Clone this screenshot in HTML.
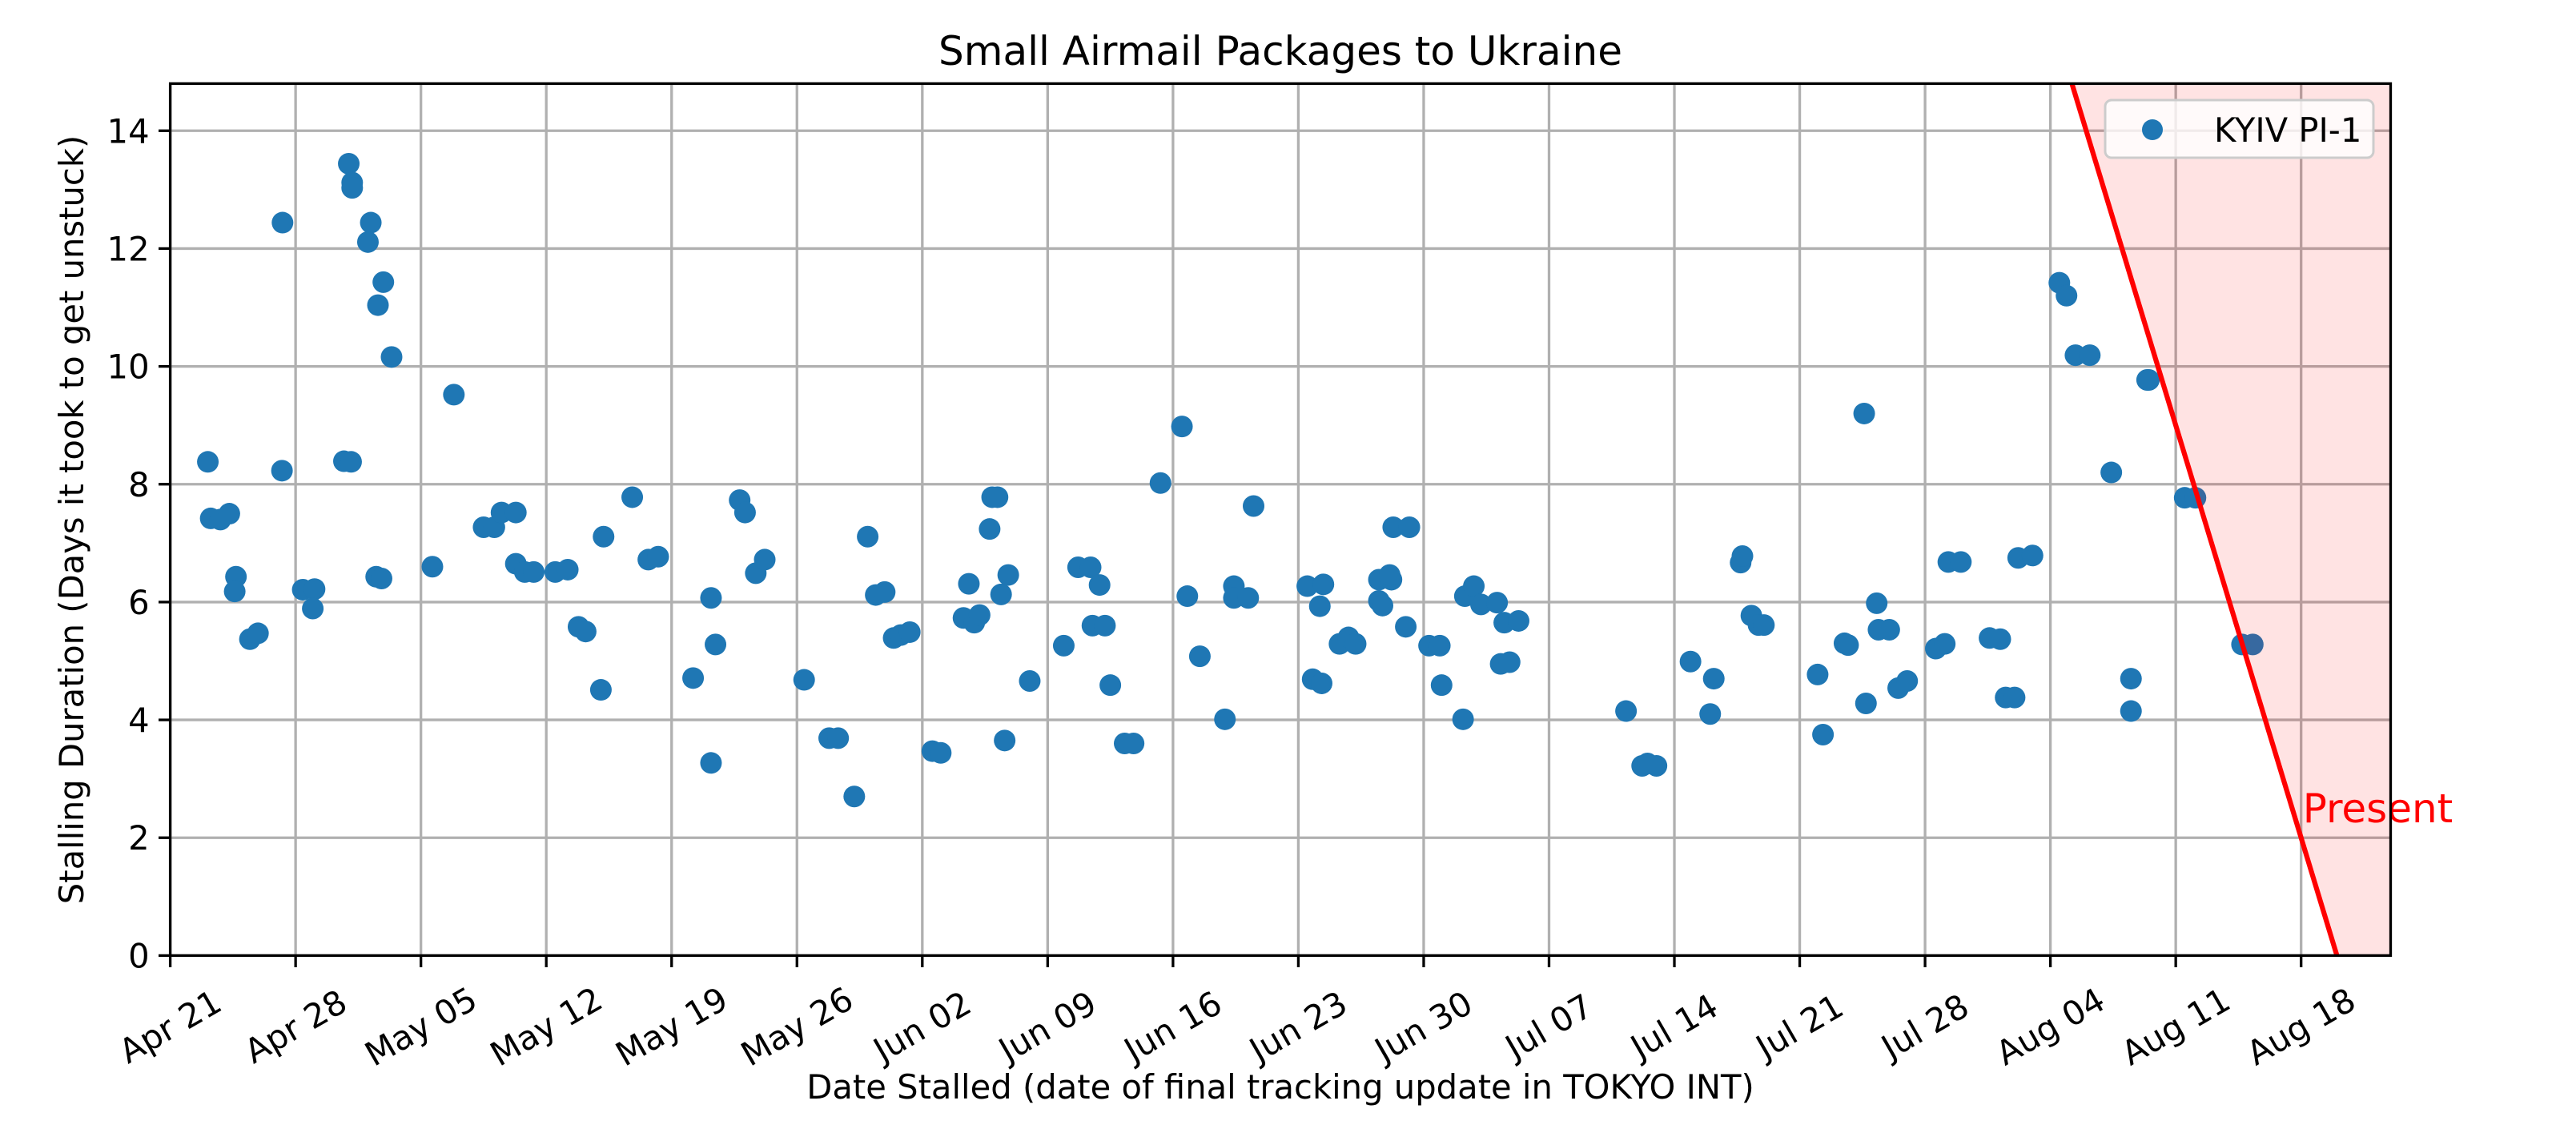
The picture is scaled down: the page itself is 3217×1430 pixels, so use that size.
<!DOCTYPE html>
<html><head><meta charset="utf-8"><style>
html,body{margin:0;padding:0;background:#fff;}
svg{display:block;font-family:"DejaVu Sans","Liberation Sans",sans-serif;}
</style></head><body>
<svg id="chart" width="3217" height="1430" viewBox="0 0 3217 1430" xmlns="http://www.w3.org/2000/svg">
<rect x="0" y="0" width="3217" height="1430" fill="#fff"/>
<g id="grid"></g>
<g id="points"></g>
<g id="present"></g>
<g id="axes"></g>
<text x="1599" y="81" font-size="50" text-anchor="middle">Small Airmail Packages to Ukraine</text>
<text x="1599" y="1372" font-size="41.7" text-anchor="middle">Date Stalled (date of final tracking update in TOKYO INT)</text>
<text x="0" y="0" font-size="41.7" text-anchor="middle" transform="translate(104,649) rotate(-90)">Stalling Duration (Days it took to get unstuck)</text>
<g>
<rect x="2629" y="125" width="335" height="72" rx="8" fill="#fff" fill-opacity="0.8" stroke="#cccccc" stroke-width="3"/>
<circle cx="2688" cy="162" r="13" fill="#1f77b4"/>
<text x="2765" y="177" font-size="41.7">KYIV PI-1</text>
</g>
</svg>
<script>
// data: day offsets from Apr 21, and stalling durations
const dayOffsets = [2.1,2.26,2.8,3.3,3.67,3.6,4.45,4.9,6.27,6.24,7.4,8.06,7.96,9.7,10.1,9.97,10.16,10.16,11.2,11.04,11.5,11.8,11.6,11.9,12.36,14.64,15.84,17.5,18.1,18.5,19.3,19.3,19.8,20.3,21.5,22.2,22.8,23.2,24.05,24.2,25.8,26.7,27.25,29.2,30.2,30.2,30.45,31.8,32.1,32.7,33.2,35.4,36.8,37.3,38.2,38.95,39.4,39.9,40.4,40.8,41.3,42.56,43.03,44.6,44.3,44.9,45.2,45.76,45.9,46.2,46.4,46.6,46.8,48.0,49.9,50.7,51.4,51.9,51.5,52.2,52.5,53.3,53.8,55.3,56.5,56.8,57.5,58.9,59.4,59.4,60.2,60.5,63.5,64.4,64.2,63.8,64.3,65.3,65.8,66.2,67.5,67.7,67.5,68.2,68.1,68.3,69.2,69.0,70.3,70.9,71.0,72.2,72.3,72.8,73.2,74.1,74.5,75.3,74.3,74.8,81.3,82.2,83.0,82.5,84.9,86.0,86.2,87.7,87.8,88.3,88.7,89.0,92.0,92.3,93.5,93.7,94.6,94.7,95.3,95.4,96.0,96.5,97.0,98.6,99.1,99.3,100.0,101.6,102.2,102.5,103.0,103.2,104.0,105.5,105.9,106.4,107.2,108.4,109.5,109.5,110.4,110.5,112.5,113.1,115.7,116.3];
const durations = [8.38,7.42,7.40,7.5,6.43,6.18,5.37,5.47,12.44,8.23,6.21,6.22,5.89,8.39,8.38,13.44,13.12,13.03,12.44,12.11,6.43,6.40,11.04,11.43,10.16,6.6,9.52,7.27,7.27,7.52,7.52,6.65,6.51,6.51,6.51,6.55,5.58,5.50,4.51,7.11,7.78,6.72,6.77,4.71,6.07,3.27,5.28,7.73,7.52,6.49,6.72,4.68,3.69,3.69,2.70,7.11,6.12,6.17,5.39,5.44,5.49,3.47,3.44,6.31,5.73,5.65,5.78,7.24,7.78,7.78,6.13,3.65,6.46,4.66,5.26,6.59,6.59,6.29,5.60,5.60,4.59,3.60,3.60,8.02,8.98,6.10,5.08,4.01,6.27,6.07,6.07,7.63,6.27,6.30,5.93,4.69,4.62,5.29,5.40,5.29,6.02,5.94,6.38,6.38,6.46,7.27,7.27,5.58,5.26,5.26,4.59,4.01,6.10,6.27,5.96,5.99,5.65,5.68,4.95,4.98,4.15,3.22,3.22,3.26,4.99,4.10,4.70,6.67,6.78,5.77,5.61,5.61,4.77,3.75,5.30,5.27,9.20,4.28,5.98,5.53,5.53,4.54,4.66,5.21,5.29,6.68,6.68,5.39,5.37,4.38,4.38,6.75,6.79,11.42,11.20,10.19,10.19,8.20,4.70,4.15,9.77,9.77,7.77,7.77,5.28,5.28];
const xTickDays = [0,7,14,21,28,35,42,49,56,63,70,77,84,91,98,105,112,119];
const xTickLabels = ["Apr 21","Apr 28","May 05","May 12","May 19","May 26","Jun 02","Jun 09","Jun 16","Jun 23","Jun 30","Jul 07","Jul 14","Jul 21","Jul 28","Aug 04","Aug 11","Aug 18"];
const yTicks = [0,2,4,6,8,10,12,14];
const presentDay = [121];
const presentSlope = [1];

const NS="http://www.w3.org/2000/svg";
const L=212.6,R=2985.5,T=104.4,B=1193.4;
const XMIN=0,XMAX=124,YMIN=0,YMAX=14.8;
function sx(d){return L+(d-XMIN)/(XMAX-XMIN)*(R-L);}
function sy(v){return B-(v-YMIN)/(YMAX-YMIN)*(B-T);}
function mk(tag,attrs,parent){const e=document.createElementNS(NS,tag);for(const k in attrs)e.setAttribute(k,attrs[k]);parent.appendChild(e);return e;}

const grid=document.getElementById('grid');
xTickDays.forEach(d=>{
  const g=mk('line',{x1:sx(d),x2:sx(d),y1:T,y2:B,stroke:'#b0b0b0','stroke-width':3.3},grid);
  
  
});
yTicks.forEach(v=>{
  const g=mk('line',{x1:L,x2:R,y1:sy(v),y2:sy(v),stroke:'#b0b0b0','stroke-width':3.3},grid);
  
  
});

const pts=document.getElementById('points');
dayOffsets.forEach((d,i)=>{
  const c=mk('circle',{cx:sx(d),cy:sy(durations[i]),r:13.5,fill:'#1f77b4'},pts);
  
  
});

const pr=document.getElementById('present');
const d0=presentDay[0],k=presentSlope[0];
const topDay=d0-YMAX/k;
const poly=mk('polygon',{points:`${sx(topDay)},${T} ${R},${T} ${R},${B} ${sx(d0)},${B}`,fill:'red','fill-opacity':0.11},pr);


const ln=mk('line',{x1:sx(topDay),y1:T,x2:sx(d0),y2:B,stroke:'red','stroke-width':6.2},pr);


const pt=mk('text',{x:sx(119)+2,y:1027,fill:'red','font-size':50},pr);
pt.textContent='Present';



const ax=document.getElementById('axes');
const fr=mk('rect',{x:L,y:T,width:R-L,height:B-T,fill:'none',stroke:'#000','stroke-width':3.3},ax);


xTickDays.forEach((d,i)=>{
  const t=mk('line',{x1:sx(d),x2:sx(d),y1:B,y2:B+14.6,stroke:'#000','stroke-width':3.3},ax);
  
  
  const tx=mk('text',{x:sx(d),y:1282,'font-size':41.7,'text-anchor':'middle','dominant-baseline':'central',transform:`rotate(-30 ${sx(d)} 1282)`},ax);
  tx.textContent=xTickLabels[i];
  
  
});
yTicks.forEach(v=>{
  const t=mk('line',{x1:L-14.6,x2:L,y1:sy(v),y2:sy(v),stroke:'#000','stroke-width':3.3},ax);
  
  
  const tx=mk('text',{x:L-26,y:sy(v)+15,'font-size':41.7,'text-anchor':'end'},ax);
  tx.textContent=String(v);
  
  
});
</script>
</body></html>
